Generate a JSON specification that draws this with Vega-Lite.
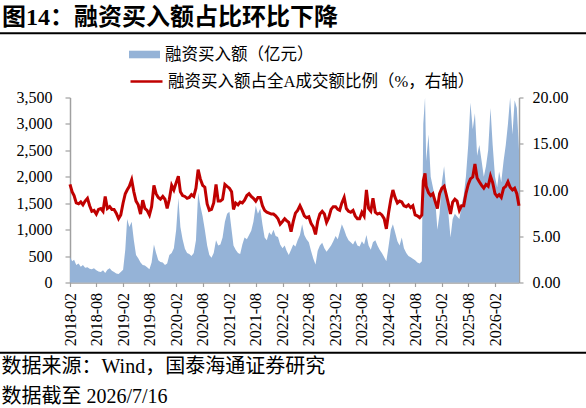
{
  "$schema": "https://vega.github.io/schema/vega-lite/v6.json",
  "width": 449,
  "height": 185,
  "autosize": {"type": "none"},
  "padding": {"left": 70, "top": 97.5, "right": 67, "bottom": 125.5},
  "background": "white",
  "config": {
    "view": {"stroke": null},
    "axis": {
      "grid": false,
      "labelFont": "Liberation Serif",
      "labelFontSize": 16,
      "labelColor": "#000",
      "domainColor": "#a0a0a0",
      "tickColor": "#a0a0a0",
      "domainWidth": 1.5,
      "tickWidth": 1.2
    }
  },
  "title": {
    "text": "图14：融资买入额占比环比下降",
    "anchor": "start",
    "frame": "group",
    "dx": -68,
    "offset": -17,
    "fontSize": 24,
    "fontWeight": "bold",
    "font": "'Liberation Serif', 'Noto Sans CJK SC'",
    "color": "#000",
    "baseline": "alphabetic"
  },
  "data": {
    "values": [
      {"d": "2018-02-01", "a": 480, "r": 10.6}, {"d": "2018-02-16", "a": 400, "r": 9.8},
      {"d": "2018-03-01", "a": 430, "r": 9.4}, {"d": "2018-03-16", "a": 330, "r": 8.6},
      {"d": "2018-04-01", "a": 360, "r": 8.5}, {"d": "2018-04-16", "a": 300, "r": 8.7},
      {"d": "2018-05-01", "a": 330, "r": 8.4}, {"d": "2018-05-16", "a": 280, "r": 8.8},
      {"d": "2018-06-01", "a": 290, "r": 9.1}, {"d": "2018-06-16", "a": 260, "r": 8.3},
      {"d": "2018-07-01", "a": 250, "r": 7.7}, {"d": "2018-07-16", "a": 270, "r": 7.8},
      {"d": "2018-08-01", "a": 230, "r": 7.4}, {"d": "2018-08-16", "a": 210, "r": 7.9},
      {"d": "2018-09-01", "a": 200, "r": 8.0}, {"d": "2018-09-16", "a": 230, "r": 7.7},
      {"d": "2018-10-01", "a": 180, "r": 9.3}, {"d": "2018-10-16", "a": 240, "r": 8.0},
      {"d": "2018-11-01", "a": 270, "r": 8.2}, {"d": "2018-11-16", "a": 220, "r": 7.9},
      {"d": "2018-12-01", "a": 200, "r": 7.9}, {"d": "2018-12-16", "a": 170, "r": 7.5},
      {"d": "2019-01-01", "a": 160, "r": 6.9}, {"d": "2019-01-16", "a": 200, "r": 7.3},
      {"d": "2019-02-01", "a": 240, "r": 8.6}, {"d": "2019-02-16", "a": 620, "r": 9.6},
      {"d": "2019-03-01", "a": 1200, "r": 10.0}, {"d": "2019-03-16", "a": 1050, "r": 10.4},
      {"d": "2019-04-01", "a": 1150, "r": 11.1}, {"d": "2019-04-16", "a": 800, "r": 9.8},
      {"d": "2019-05-01", "a": 520, "r": 8.8}, {"d": "2019-05-16", "a": 460, "r": 8.4},
      {"d": "2019-06-01", "a": 380, "r": 7.4}, {"d": "2019-06-16", "a": 330, "r": 8.9},
      {"d": "2019-07-01", "a": 320, "r": 8.0}, {"d": "2019-07-16", "a": 290, "r": 7.8},
      {"d": "2019-08-01", "a": 250, "r": 7.3}, {"d": "2019-08-16", "a": 380, "r": 8.2},
      {"d": "2019-09-01", "a": 720, "r": 10.5}, {"d": "2019-09-16", "a": 560, "r": 9.6},
      {"d": "2019-10-01", "a": 420, "r": 9.2}, {"d": "2019-10-16", "a": 390, "r": 9.0},
      {"d": "2019-11-01", "a": 380, "r": 9.3}, {"d": "2019-11-16", "a": 330, "r": 9.0},
      {"d": "2019-12-01", "a": 360, "r": 8.0}, {"d": "2019-12-16", "a": 520, "r": 9.0},
      {"d": "2020-01-01", "a": 560, "r": 10.5}, {"d": "2020-01-16", "a": 650, "r": 10.0},
      {"d": "2020-02-01", "a": 1000, "r": 10.8}, {"d": "2020-02-16", "a": 1600, "r": 11.5},
      {"d": "2020-03-01", "a": 1050, "r": 9.8}, {"d": "2020-03-16", "a": 820, "r": 9.4},
      {"d": "2020-04-01", "a": 640, "r": 9.3}, {"d": "2020-04-16", "a": 560, "r": 9.1},
      {"d": "2020-05-01", "a": 540, "r": 9.2}, {"d": "2020-05-16", "a": 500, "r": 9.5},
      {"d": "2020-06-01", "a": 560, "r": 9.3}, {"d": "2020-06-16", "a": 800, "r": 10.2},
      {"d": "2020-07-01", "a": 1700, "r": 12.2}, {"d": "2020-07-16", "a": 1450, "r": 11.2},
      {"d": "2020-08-01", "a": 1250, "r": 10.5}, {"d": "2020-08-16", "a": 1000, "r": 10.3},
      {"d": "2020-09-01", "a": 700, "r": 8.5}, {"d": "2020-09-16", "a": 520, "r": 7.8},
      {"d": "2020-10-01", "a": 470, "r": 7.9}, {"d": "2020-10-16", "a": 560, "r": 8.6},
      {"d": "2020-11-01", "a": 800, "r": 10.6}, {"d": "2020-11-16", "a": 700, "r": 8.8},
      {"d": "2020-12-01", "a": 720, "r": 8.8}, {"d": "2020-12-16", "a": 850, "r": 9.0},
      {"d": "2021-01-01", "a": 1150, "r": 10.6}, {"d": "2021-01-16", "a": 1300, "r": 10.4},
      {"d": "2021-02-01", "a": 1340, "r": 10.2}, {"d": "2021-02-16", "a": 1000, "r": 9.8},
      {"d": "2021-03-01", "a": 700, "r": 7.9}, {"d": "2021-03-16", "a": 620, "r": 8.6},
      {"d": "2021-04-01", "a": 560, "r": 8.4}, {"d": "2021-04-16", "a": 540, "r": 8.7},
      {"d": "2021-05-01", "a": 720, "r": 8.6}, {"d": "2021-05-16", "a": 850, "r": 8.9},
      {"d": "2021-06-01", "a": 820, "r": 9.4}, {"d": "2021-06-16", "a": 900, "r": 9.6},
      {"d": "2021-07-01", "a": 980, "r": 9.3}, {"d": "2021-07-16", "a": 1150, "r": 9.1},
      {"d": "2021-08-01", "a": 1450, "r": 8.8}, {"d": "2021-08-16", "a": 1300, "r": 9.2},
      {"d": "2021-09-01", "a": 1400, "r": 9.2}, {"d": "2021-09-16", "a": 1100, "r": 8.3},
      {"d": "2021-10-01", "a": 850, "r": 7.8}, {"d": "2021-10-16", "a": 800, "r": 7.6},
      {"d": "2021-11-01", "a": 950, "r": 7.5}, {"d": "2021-11-16", "a": 900, "r": 7.4},
      {"d": "2021-12-01", "a": 1000, "r": 7.4}, {"d": "2021-12-16", "a": 880, "r": 7.2},
      {"d": "2022-01-01", "a": 860, "r": 6.9}, {"d": "2022-01-16", "a": 720, "r": 6.3},
      {"d": "2022-02-01", "a": 650, "r": 6.6}, {"d": "2022-02-16", "a": 700, "r": 6.9},
      {"d": "2022-03-01", "a": 600, "r": 6.7}, {"d": "2022-03-16", "a": 520, "r": 6.5},
      {"d": "2022-04-01", "a": 620, "r": 5.5}, {"d": "2022-04-16", "a": 720, "r": 6.6},
      {"d": "2022-05-01", "a": 680, "r": 7.5}, {"d": "2022-05-16", "a": 800, "r": 7.8},
      {"d": "2022-06-01", "a": 900, "r": 8.3}, {"d": "2022-06-16", "a": 1100, "r": 7.8},
      {"d": "2022-07-01", "a": 900, "r": 7.2}, {"d": "2022-07-16", "a": 820, "r": 7.0},
      {"d": "2022-08-01", "a": 760, "r": 7.1}, {"d": "2022-08-16", "a": 600, "r": 6.4},
      {"d": "2022-09-01", "a": 450, "r": 6.0}, {"d": "2022-09-16", "a": 340, "r": 5.2},
      {"d": "2022-10-01", "a": 600, "r": 6.6}, {"d": "2022-10-16", "a": 700, "r": 7.4},
      {"d": "2022-11-01", "a": 750, "r": 7.7}, {"d": "2022-11-16", "a": 650, "r": 7.4},
      {"d": "2022-12-01", "a": 580, "r": 6.5}, {"d": "2022-12-16", "a": 640, "r": 7.0},
      {"d": "2023-01-01", "a": 700, "r": 7.9}, {"d": "2023-01-16", "a": 780, "r": 8.2},
      {"d": "2023-02-01", "a": 880, "r": 8.2}, {"d": "2023-02-16", "a": 820, "r": 7.9},
      {"d": "2023-03-01", "a": 950, "r": 7.8}, {"d": "2023-03-16", "a": 1100, "r": 8.6},
      {"d": "2023-04-01", "a": 1000, "r": 9.2}, {"d": "2023-04-16", "a": 880, "r": 8.0},
      {"d": "2023-05-01", "a": 800, "r": 7.7}, {"d": "2023-05-16", "a": 760, "r": 7.6},
      {"d": "2023-06-01", "a": 720, "r": 7.8}, {"d": "2023-06-16", "a": 800, "r": 7.2},
      {"d": "2023-07-01", "a": 700, "r": 6.9}, {"d": "2023-07-16", "a": 680, "r": 6.9},
      {"d": "2023-08-01", "a": 780, "r": 7.6}, {"d": "2023-08-16", "a": 720, "r": 7.2},
      {"d": "2023-09-01", "a": 900, "r": 10.0}, {"d": "2023-09-16", "a": 700, "r": 8.0},
      {"d": "2023-10-01", "a": 620, "r": 7.7}, {"d": "2023-10-16", "a": 760, "r": 9.1},
      {"d": "2023-11-01", "a": 800, "r": 7.6}, {"d": "2023-11-16", "a": 700, "r": 7.4},
      {"d": "2023-12-01", "a": 620, "r": 7.5}, {"d": "2023-12-16", "a": 560, "r": 7.3},
      {"d": "2024-01-01", "a": 480, "r": 6.9}, {"d": "2024-01-16", "a": 400, "r": 5.8},
      {"d": "2024-02-01", "a": 700, "r": 7.6}, {"d": "2024-02-16", "a": 1000, "r": 9.0},
      {"d": "2024-03-01", "a": 1100, "r": 10.0}, {"d": "2024-03-16", "a": 950, "r": 9.2},
      {"d": "2024-04-01", "a": 780, "r": 8.6}, {"d": "2024-04-16", "a": 700, "r": 8.8},
      {"d": "2024-05-01", "a": 850, "r": 8.7}, {"d": "2024-05-16", "a": 650, "r": 8.3},
      {"d": "2024-06-01", "a": 560, "r": 8.2}, {"d": "2024-06-16", "a": 500, "r": 8.4},
      {"d": "2024-07-01", "a": 480, "r": 8.1}, {"d": "2024-07-16", "a": 450, "r": 8.3},
      {"d": "2024-08-01", "a": 420, "r": 7.3}, {"d": "2024-08-16", "a": 380, "r": 7.2},
      {"d": "2024-09-01", "a": 360, "r": 7.0}, {"d": "2024-09-16", "a": 400, "r": 7.3},
      {"d": "2024-09-26", "a": 3000, "r": 11.0}, {"d": "2024-10-08", "a": 3500, "r": 11.8},
      {"d": "2024-10-16", "a": 2300, "r": 10.4}, {"d": "2024-11-01", "a": 2800, "r": 9.7},
      {"d": "2024-11-16", "a": 2000, "r": 9.4}, {"d": "2024-12-01", "a": 1800, "r": 9.6},
      {"d": "2024-12-16", "a": 1600, "r": 8.8}, {"d": "2025-01-01", "a": 1000, "r": 8.0},
      {"d": "2025-01-16", "a": 1300, "r": 9.6}, {"d": "2025-02-01", "a": 1900, "r": 10.2},
      {"d": "2025-02-16", "a": 2200, "r": 10.4}, {"d": "2025-03-01", "a": 1800, "r": 9.6},
      {"d": "2025-03-16", "a": 1350, "r": 8.6}, {"d": "2025-04-01", "a": 850, "r": 7.4},
      {"d": "2025-04-16", "a": 1200, "r": 8.7}, {"d": "2025-05-01", "a": 1300, "r": 9.0},
      {"d": "2025-05-16", "a": 1250, "r": 8.8}, {"d": "2025-06-01", "a": 1200, "r": 7.8},
      {"d": "2025-06-16", "a": 1450, "r": 8.3}, {"d": "2025-07-01", "a": 1650, "r": 8.3},
      {"d": "2025-07-16", "a": 2000, "r": 9.6}, {"d": "2025-08-01", "a": 2600, "r": 10.6},
      {"d": "2025-08-16", "a": 3400, "r": 11.2}, {"d": "2025-09-01", "a": 2900, "r": 11.4},
      {"d": "2025-09-16", "a": 3200, "r": 12.8}, {"d": "2025-10-01", "a": 2400, "r": 11.3},
      {"d": "2025-10-16", "a": 2600, "r": 10.9}, {"d": "2025-11-01", "a": 2300, "r": 10.5},
      {"d": "2025-11-16", "a": 2000, "r": 10.2}, {"d": "2025-12-01", "a": 2200, "r": 10.6},
      {"d": "2025-12-16", "a": 2500, "r": 10.4}, {"d": "2026-01-01", "a": 3300, "r": 11.5},
      {"d": "2026-01-16", "a": 2600, "r": 10.8}, {"d": "2026-02-01", "a": 2000, "r": 9.6},
      {"d": "2026-02-16", "a": 1800, "r": 9.3}, {"d": "2026-03-01", "a": 2100, "r": 9.5},
      {"d": "2026-03-16", "a": 1900, "r": 9.2}, {"d": "2026-04-01", "a": 2300, "r": 10.2},
      {"d": "2026-04-16", "a": 2600, "r": 10.4}, {"d": "2026-05-01", "a": 3000, "r": 10.9},
      {"d": "2026-05-16", "a": 3500, "r": 10.3}, {"d": "2026-06-01", "a": 2800, "r": 10.0},
      {"d": "2026-06-16", "a": 3450, "r": 10.2}, {"d": "2026-07-01", "a": 3300, "r": 9.6},
      {"d": "2026-07-16", "a": 2500, "r": 8.3}
    ]
  },
  "encoding": {
    "x": {
      "type": "temporal",
      "scale": {
        "type": "utc",
        "domain": [
          {"year": 2018, "month": 2, "date": 1, "utc": true},
          {"year": 2026, "month": 7, "date": 16, "utc": true}
        ]
      },
      "axis": {
        "values": [
          {"year": 2018, "month": 2, "date": 1, "utc": true},
          {"year": 2018, "month": 8, "date": 1, "utc": true},
          {"year": 2019, "month": 2, "date": 1, "utc": true},
          {"year": 2019, "month": 8, "date": 1, "utc": true},
          {"year": 2020, "month": 2, "date": 1, "utc": true},
          {"year": 2020, "month": 8, "date": 1, "utc": true},
          {"year": 2021, "month": 2, "date": 1, "utc": true},
          {"year": 2021, "month": 8, "date": 1, "utc": true},
          {"year": 2022, "month": 2, "date": 1, "utc": true},
          {"year": 2022, "month": 8, "date": 1, "utc": true},
          {"year": 2023, "month": 2, "date": 1, "utc": true},
          {"year": 2023, "month": 8, "date": 1, "utc": true},
          {"year": 2024, "month": 2, "date": 1, "utc": true},
          {"year": 2024, "month": 8, "date": 1, "utc": true},
          {"year": 2025, "month": 2, "date": 1, "utc": true},
          {"year": 2025, "month": 8, "date": 1, "utc": true},
          {"year": 2026, "month": 2, "date": 1, "utc": true}
        ],
        "format": "%Y-%m",
        "labelAngle": -90,
        "labelPadding": 6,
        "tickSize": 4,
        "labelFlush": false,
        "labelOverlap": false,
        "title": ["数据来源：Wind，国泰海通证券研究", "数据截至 2026/7/16"],
        "titleFont": "'Liberation Serif', 'Noto Sans CJK SC'",
        "titleFontSize": 20,
        "titleFontWeight": "normal",
        "titleColor": "#000",
        "titleAlign": "left",
        "titleBaseline": "top",
        "titleAngle": 0,
        "titleX": -69,
        "titleY": 74,
        "titleLineHeight": 30
      }
    }
  },
  "layer": [
    {
      "mark": {"type": "area", "interpolate": "linear", "opacity": 1},
      "encoding": {
        "x": {"field": "d"},
        "y": {
          "field": "a",
          "type": "quantitative",
          "scale": {"domain": [0, 3500]},
          "axis": {
            "values": [0, 500, 1000, 1500, 2000, 2500, 3000, 3500],
            "format": ",d",
            "tickSize": 5,
            "labelPadding": 13,
            "title": null
          }
        },
        "fill": {
          "datum": "融资买入额（亿元）",
          "type": "nominal",
          "scale": {"range": ["#95b3d7"]},
          "legend": {
            "orient": "none",
            "legendX": 59,
            "legendY": -58.5,
            "title": null,
            "padding": 0,
            "labelFont": "'Liberation Serif', 'Noto Sans CJK SC'",
            "labelFontSize": 16.5,
            "labelColor": "#000",
            "labelOffset": 5,
            "labelLimit": 400,
            "symbolType": "M-1,-0.245H1V0.245H-1Z",
            "symbolSize": 961,
            "symbolStrokeWidth": 0,
            "symbolOpacity": 1
          }
        }
      }
    },
    {
      "mark": {"type": "line", "strokeWidth": 3},
      "encoding": {
        "x": {"field": "d"},
        "y": {
          "field": "r",
          "type": "quantitative",
          "scale": {"domain": [0, 20]},
          "axis": {
            "orient": "right",
            "values": [0, 5, 10, 15, 20],
            "format": ".2f",
            "tickSize": 4,
            "labelPadding": 9,
            "title": null
          }
        },
        "stroke": {
          "datum": "融资买入额占全A成交额比例（%，右轴）",
          "type": "nominal",
          "scale": {"range": ["#c00000"]},
          "legend": {
            "orient": "none",
            "legendX": 59,
            "legendY": -33.5,
            "title": null,
            "padding": 0,
            "labelFont": "'Liberation Serif', 'Noto Sans CJK SC'",
            "labelFontSize": 16.5,
            "labelColor": "#000",
            "labelOffset": 4,
            "labelLimit": 500,
            "symbolType": "stroke",
            "symbolSize": 1024,
            "symbolStrokeWidth": 2.5
          }
        }
      }
    },
    {
      "data": {"values": [{}]},
      "mark": {"type": "rule", "strokeWidth": 2, "color": "#000"},
      "encoding": {
        "x": {"datum": {"year": 2016, "month": 9, "date": 1, "utc": true}},
        "x2": {"datum": {"year": 2027, "month": 12, "date": 31, "utc": true}},
        "y": {"datum": 4715, "type": "quantitative", "scale": {"domain": [0, 3500]}, "axis": null}
      }
    },
    {
      "data": {"values": [{}]},
      "mark": {"type": "rule", "strokeWidth": 2, "color": "#000"},
      "encoding": {
        "x": {"datum": {"year": 2016, "month": 9, "date": 1, "utc": true}},
        "x2": {"datum": {"year": 2027, "month": 12, "date": 31, "utc": true}},
        "y": {"datum": -1328, "type": "quantitative", "scale": {"domain": [0, 3500]}, "axis": null}
      }
    }
  ],
  "resolve": {"scale": {"y": "independent"}}
}
